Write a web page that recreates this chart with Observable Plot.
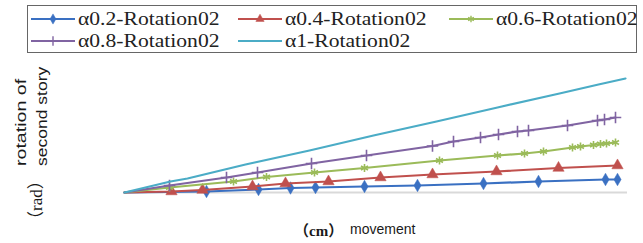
<!DOCTYPE html>
<html><head><meta charset="utf-8">
<script src="https://cdn.jsdelivr.net/npm/d3@7"></script>
<script src="https://cdn.jsdelivr.net/npm/@observablehq/plot@0.6"></script>
<style>
body{margin:0;background:#fff;}
#wrap{position:relative;width:643px;height:243px;overflow:hidden;background:#fff;}
#chart{position:absolute;left:0;top:0;}
#legend{position:absolute;left:27px;top:5px;width:610px;height:48px;border:1px solid #666;box-sizing:border-box;}
.entry{position:absolute;height:22px;}
.entry svg{position:absolute;left:0;top:0;display:block;}
.lab{position:absolute;white-space:nowrap;color:#1a1a1a;transform-origin:0 0;}
</style></head><body>
<div id="wrap"><div id="chart"></div><div id="legend"></div></div>
<script>
// series names and styles
const seriesNames = ["α0.2-Rotation02","α0.4-Rotation02","α0.6-Rotation02","α0.8-Rotation02","α1-Rotation02"];
const seriesColors = ["#3A70C2","#C0504D","#9BBB59","#8064A2","#4BACC6"];
const seriesSymbols = ["diamond","triangle","asterisk","plus",null];

// movement (x) and rotation of second story (y) for each series
const movement02 = [0, 82, 134, 166, 191, 240, 293, 359, 414, 481, 493];
const rotation02 = [0, 1, 3, 4.5, 5, 6, 7, 9, 11, 13, 13];
const movement04 = [0, 47, 78, 128, 161, 204, 256, 308, 372, 434, 493];
const rotation04 = [0, 1, 2.5, 6, 9, 11, 15, 18, 21, 24.5, 27];
const movement06 = [0, 45, 109, 142, 190, 240, 315, 373, 400, 419, 448, 456, 469, 476, 482, 491];
const rotation06 = [0, 5, 11, 15.5, 20, 24.5, 32, 37, 39, 41, 45, 46, 47.5, 48.5, 49, 50];
const movement08 = [0, 45, 102, 133, 187, 242, 308, 329, 356, 374, 393, 404, 443, 473, 480, 491];
const rotation08 = [0, 7, 15, 20, 29, 37, 46.5, 51, 55, 58, 61, 62, 67, 72, 73, 75];
const movement1 = [0, 46, 63, 121, 185, 249, 312, 373, 435, 474, 501];
const rotation1 = [0, 11, 14, 28, 42, 57, 71, 85, 99, 108, 114];

const xs = [movement02, movement04, movement06, movement08, movement1];
const ys = [rotation02, rotation04, rotation06, rotation08, rotation1];

const rows = [];
seriesNames.forEach((name, k) => {
  xs[k].forEach((x, i) => rows.push({series: name, k, i, x, y: ys[k][i]}));
});

const marks = [Plot.ruleY([0], {stroke: "#d9d9d9", strokeWidth: 2})];
seriesNames.forEach((name, k) => {
  const data = rows.filter(d => d.k === k);
  marks.push(Plot.line(data, {x: "x", y: "y", stroke: seriesColors[k], strokeWidth: 2.2}));
  const sym = seriesSymbols[k];
  if (sym) {
    const filled = sym === "diamond" || sym === "triangle";
    marks.push(Plot.dot(data.filter(d => d.i > 0), {
      x: "x", y: "y", symbol: () => sym,
      r: sym === "triangle" ? 4.2 : 3.8,
      fill: filled ? seriesColors[k] : "none",
      stroke: seriesColors[k], strokeWidth: filled ? 0.5 : 1.6
    }));
  }
});

const chart = Plot.plot({
  width: 643, height: 243,
  marginTop: 72, marginBottom: 51, marginLeft: 124, marginRight: 16,
  x: {domain: [0, 503], axis: null},
  y: {domain: [0, 120], axis: null},
  symbol: {type: "identity"},
  marks
});
document.getElementById("chart").appendChild(chart);

// legend
const legendPos = [[2, 2], [209, 2], [420, 2], [2, 24], [209, 24]];
const legend = document.getElementById("legend");
seriesNames.forEach((name, k) => {
  const e = document.createElement("div");
  e.className = "entry";
  e.style.left = legendPos[k][0] + "px";
  e.style.top = legendPos[k][1] + "px";
  const svg = d3.create("svg").attr("width", 46).attr("height", 22);
  svg.append("line").attr("x1", 1).attr("x2", 45).attr("y1", 11).attr("y2", 11)
    .attr("stroke", seriesColors[k]).attr("stroke-width", 2);
  const sym = seriesSymbols[k];
  if (sym) {
    const map = {diamond: d3.symbolDiamond, triangle: d3.symbolTriangle, asterisk: d3.symbolAsterisk, plus: d3.symbolPlus};
    const filled = sym === "diamond" || sym === "triangle";
    svg.append("path").attr("transform", "translate(23,11)")
      .attr("d", d3.symbol(map[sym], 30)())
      .attr("fill", filled ? seriesColors[k] : "none")
      .attr("stroke", seriesColors[k]).attr("stroke-width", filled ? 0.5 : 1.4);
  }
  e.appendChild(svg.node());
  const t = document.createElement("div");
  t.textContent = name;
  Object.assign(t.style, {
    position: "absolute", left: "48px", top: "0px", whiteSpace: "nowrap",
    font: "18px 'Liberation Serif', serif", lineHeight: "22px", color: "#222",
    transform: "scaleX(1.2)", transformOrigin: "0 50%"
  });
  e.appendChild(t);
  legend.appendChild(e);
});

// axis labels
const yLabelLines = ["rotation of", "second story"];
const yUnit = "（rad）";
const xUnit = "（cm）";
const xLabel = "movement";
const wrap = document.getElementById("wrap");
function addLabel(text, css) {
  const d = document.createElement("div");
  d.className = "lab";
  d.textContent = text;
  Object.assign(d.style, css);
  wrap.appendChild(d);
}
addLabel(yLabelLines[0], {left: "14px", top: "166px", font: "14px 'Liberation Sans', Arial, sans-serif", lineHeight: "14px", transform: "rotate(-90deg) scaleX(1.4)"});
addLabel(yLabelLines[1], {left: "35px", top: "166px", font: "14px 'Liberation Sans', Arial, sans-serif", lineHeight: "14px", transform: "rotate(-90deg) scaleX(1.25)"});
addLabel(yUnit, {left: "27px", top: "228px", font: "17px 'Liberation Serif', 'Noto Sans CJK SC', serif", lineHeight: "19px", transform: "rotate(-90deg)"});
addLabel(xUnit, {left: "294px", top: "221px", font: "bold 15px 'Liberation Serif', 'Noto Sans CJK SC', serif", lineHeight: "20px"});
addLabel(xLabel, {left: "350px", top: "220px", font: "14px 'Liberation Sans', Arial, sans-serif", lineHeight: "18px"});
</script>
</body></html>
